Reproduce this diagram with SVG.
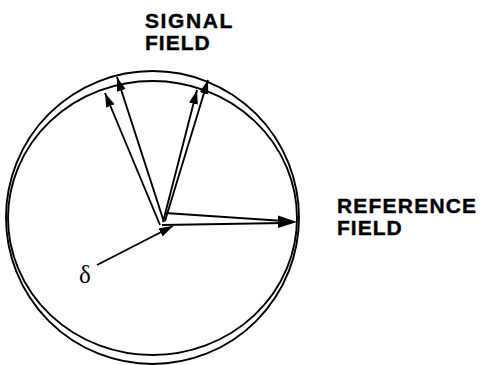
<svg xmlns="http://www.w3.org/2000/svg" width="480" height="365" viewBox="0 0 480 365">
<style>
.c{fill:none;stroke:#000;stroke-width:1.9}
.a{fill:none;stroke:#000;stroke-width:1.9}
.lbl{font-family:"Liberation Sans",Arial,Helvetica,sans-serif;font-weight:bold;font-size:21px;fill:#000;stroke:#000;stroke-width:0.4}
.sym{font-family:"Liberation Serif","Times New Roman",serif;font-size:25px;fill:#000}
</style>
<defs>
<marker id="ah" markerUnits="userSpaceOnUse" markerWidth="16" markerHeight="10" refX="14" refY="4.5" orient="auto">
<path d="M0,0 L14,4.5 L0,9 Z" fill="#000"/>
</marker>
</defs>
<rect width="480" height="365" fill="#fff"/>
<g id="outer-circle"><circle class="c" cx="152.5" cy="217.5" r="146.5"/></g>
<g id="inner-circle"><ellipse class="c" cx="152.5" cy="218" rx="144.5" ry="137"/></g>
<g id="connectors">
<line class="a" x1="160" y1="225" x2="105" y2="93" marker-end="url(#ah)"/>
<line class="a" x1="164" y1="222" x2="117" y2="77" marker-end="url(#ah)"/>
<line class="a" x1="163" y1="222" x2="197" y2="90" marker-end="url(#ah)"/>
<line class="a" x1="165" y1="221" x2="208" y2="80" marker-end="url(#ah)"/>
<line class="a" x1="165" y1="213" x2="284" y2="221"/>
<line class="a" x1="162" y1="225" x2="284" y2="223"/>
<path d="M278,215.5 L297,222 L278,228 Z" fill="#000"/>
<line class="a" x1="97" y1="265" x2="173" y2="226" marker-end="url(#ah)"/>
</g>
<g id="signal-label"><text class="lbl" x="145" y="28" letter-spacing="1.6">SIGNAL</text><text class="lbl" x="145" y="50" letter-spacing="1">FIELD</text></g>
<g id="reference-label"><text class="lbl" x="337" y="213" letter-spacing="1.2">REFERENCE</text><text class="lbl" x="337" y="235" letter-spacing="1">FIELD</text></g>
<g id="delta-label"><text class="sym" x="79" y="283">δ</text></g>
</svg>
